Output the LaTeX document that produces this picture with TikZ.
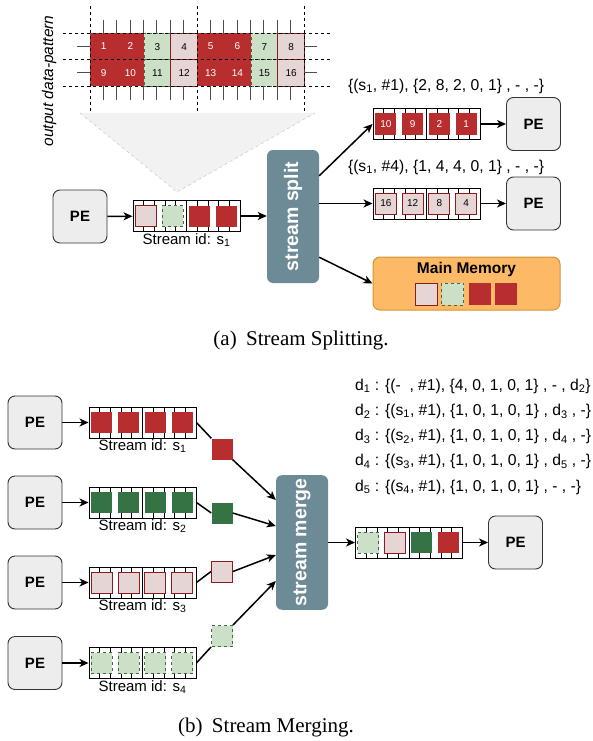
\documentclass[tikz,border=0pt]{standalone}
\usepackage{fontspec}
\setmainfont{Liberation Sans}
\newfontfamily\capfont{Liberation Serif}
\usetikzlibrary{calc}
\usetikzlibrary{arrows.meta}

\definecolor{sqred}{HTML}{B82E2E}
\definecolor{sqpink}{HTML}{E6D5D5}
\definecolor{sqpinkline}{HTML}{8C1C1C}
\definecolor{sqlgreen}{HTML}{CCE0C7}
\definecolor{sqlgreenline}{HTML}{3F6B47}
\definecolor{sqdgreen}{HTML}{367344}
\definecolor{streambox}{HTML}{6D8B97}
\definecolor{memfill}{HTML}{FDBA66}
\definecolor{memline}{HTML}{D39433}

\begin{document}
\begin{tikzpicture}[x=1pt,y=-1pt,
     pe/.style={draw=black!80,fill=black!7,rounded corners=7pt,line width=0.9pt,
       minimum width=54pt,minimum height=53pt,font=\fontsize{15}{15}\selectfont\bfseries},
     buf/.style={draw,line width=0.9pt,minimum width=107pt,minimum height=31pt,inner sep=0pt,
       path picture={
         \foreach \i in {1,...,9}
           \draw[line width=0.8pt]
             ($(path picture bounding box.north west)!\i/10!(path picture bounding box.north east)$) -- ++(0pt,-6pt)
             ($(path picture bounding box.south west)!\i/10!(path picture bounding box.south east)$) -- ++(0pt,6pt);
         \draw[line width=0.8pt] (path picture bounding box.north) -- (path picture bounding box.south);
       }},
     sq/.style={minimum size=21pt,inner sep=0pt,font=\fontsize{10}{10}\selectfont},
     redsq/.style={sq,fill=sqred,text=white},
     pinksq/.style={sq,fill=sqpink,draw=sqpinkline,line width=1pt},
     lgreensq/.style={sq,fill=sqlgreen,draw=sqlgreenline,dashed,line width=1pt},
     dgreensq/.style={sq,fill=sqdgreen},
     sbox/.style={fill=streambox,rounded corners=6pt,minimum width=52pt,text=white,
       font=\fontsize{19.5}{19.5}\selectfont\bfseries},
     lbl/.style={font=\fontsize{15.7}{15.7}\selectfont},
     sid/.style={font=\fontsize{15}{15}\selectfont,anchor=north,inner sep=1pt},
     arr/.style={-{Stealth[length=9pt,width=8pt,inset=2.5pt]},line width=1.5pt},
     ln/.style={line width=1.5pt}
   ]
   \path[use as bounding box] (0,0) rectangle (592,741);
   % Output data-pattern.
   \fill[black!5] (80,113) -- (315,113) -- (177,192) -- cycle;
   \draw[black!25,dashed] (80,113) -- (177,192) -- (315,113);
   \foreach \c [count=\k] in {redsq,redsq,lgreensq,pinksq,redsq,redsq,lgreensq,pinksq} {
     \pgfmathtruncatemacro\na{\k}
     \pgfmathtruncatemacro\nb{\k+8}
     \node[\c,minimum width=26.75pt,minimum height=26.5pt,anchor=north west] (cell\na) at ({90+26.75*(\k-1)},33) {\na};
     \node[\c,minimum width=26.75pt,minimum height=26.5pt,anchor=north west] (cell\nb) at ({90+26.75*(\k-1)},59.5) {\nb};
   }
   \foreach \y in {33,59.5,86} \draw[dashed,line width=0.8pt] (63,\y) -- (332,\y);
   \foreach \x in {90,197,304} \draw[dashed,line width=0.8pt] (\x,6) -- (\x,112);
   \foreach \k in {1,2,3,4,5,6,7,9,10,11,12,13,14,15}
     \draw[black!70,line width=1pt] ({90+13.375*\k},20) -- ++(0,13) ({90+13.375*\k},86) -- ++(0,14);
   \foreach \y in {46.5,73} \draw[black!70,line width=1pt] (77,\y) -- (90,\y) (304,\y) -- (317,\y);
   \node[font=\fontsize{15.5}{15.5}\selectfont\itshape,rotate=90] (pattern) at (49,81) {output data-pattern};

   % Stream splitting.
   \node[pe] (peA) at (80,216.5) {PE};
   \node[buf] (bufA) at (186.5,216) {};
   \foreach \c [count=\k] in {pinksq,lgreensq,redsq,redsq}
     \node[\c] (inA-\k) at ($(bufA.west)+({26.75*\k-13.375},0)$) {};
   \node[sid] (sidA) at (bufA.south) {Stream id: s\textsubscript{1}};
   \node[sbox,minimum height=133pt] (split) at (293,216.5) {\rotatebox{90}{stream split}};
   \node[lbl] (tagB) at (446,86) {\{(s\textsubscript{1}, \#1), \{2, 8, 2, 0, 1\} , - , -\}};
   \node[buf] (bufB) at (426.5,124) {};
   \foreach \c/\t [count=\k] in {redsq/10,redsq/9,redsq/2,redsq/1}
     \node[\c] (inB-\k) at ($(bufB.west)+({26.75*\k-13.375},0)$) {\t};
   \node[pe] (peB) at (533.5,124) {PE};
   \node[lbl] (tagC) at (446,167) {\{(s\textsubscript{1}, \#4), \{1, 4, 4, 0, 1\} , - , -\}};
   \node[buf] (bufC) at (426.5,203.5) {};
   \foreach \c/\t [count=\k] in {pinksq/16,pinksq/12,pinksq/8,pinksq/4}
     \node[\c] (inC-\k) at ($(bufC.west)+({26.75*\k-13.375},0)$) {\t};
   \node[pe] (peC) at (533.5,203.5) {PE};
   \node[draw=memline,fill=memfill,line width=1pt,rounded corners=7pt,minimum width=187pt,minimum height=53pt] (mem) at (466.5,283.5) {};
   \node[font=\fontsize{15.5}{15.5}\selectfont\bfseries] (memtitle) at (466.5,269) {Main Memory};
   \foreach \c/\x [count=\k] in {pinksq/426,lgreensq/452.5,redsq/479.5,redsq/506}
     \node[\c,minimum size=22pt] (inM-\k) at (\x,294) {};
   \draw[arr] (peA) -- (bufA);
   \draw[arr] (bufA) -- (split.west |- bufA);
   \draw[arr] ($(split.north east)+(0,26)$) -- (bufB.west);
   \draw[arr] (split.east |- bufC) -- (bufC);
   \draw[arr] ($(split.south east)+(0,-26)$) -- (mem.west);
   \draw[arr] (bufB) -- (peB);
   \draw[arr] (bufC) -- (peC);
   \node[font=\capfont\fontsize{21}{21}\selectfont] (capA) at (301,340) {(a)\hspace{0.45em}Stream Splitting.};

   % Stream merging.
   \foreach \n/\y/\c in {1/422.5/redsq,2/502.5/dgreensq,3/582.5/pinksq,4/663/lgreensq} {
     \node[pe] (pe\n) at (35,\y) {PE};
     \node[buf] (buf\n) at (142.5,\y) {};
     \foreach \k in {1,2,3,4}
       \node[\c] (in\n-\k) at ($(buf\n.west)+({26.75*\k-13.375},0)$) {};
     \node[sid] (sid\n) at (buf\n.south) {Stream id: s\textsubscript{\n}};
     \draw[arr] (pe\n) -- (buf\n);
   }
   \node[redsq] (mv1) at (222,449) {};
   \node[dgreensq] (mv2) at (222,513) {};
   \node[pinksq] (mv3) at (222,571.5) {};
   \node[lgreensq] (mv4) at (222,636) {};
   \node[sbox,minimum height=131pt] (merge) at (302,542.5) {\rotatebox{90}{stream merge}};
   \draw[ln] (buf1.east) -- (mv1.north west);
   \draw[ln] (buf2.east) -- (mv2.west);
   \draw[ln] (buf3.east) -- (mv3.west);
   \draw[ln] (buf4.east) -- (mv4.south west);
   \draw[arr] (mv1.south east) -- ($(merge.north west)+(0,25)$);
   \draw[arr] (mv2.east) -- ($(merge.north west)+(0,51)$);
   \draw[arr] (mv3.east) -- ($(merge.north west)+(0,80)$);
   \draw[arr] (mv4.north east) -- ($(merge.north west)+(0,106)$);
   \node[buf] (bufO) at (409,542.5) {};
   \foreach \c [count=\k] in {lgreensq,pinksq,dgreensq,redsq}
     \node[\c] (inO-\k) at ($(bufO.west)+({26.75*\k-13.375},0)$) {};
   \node[pe] (peO) at (515.5,542.5) {PE};
   \draw[arr] (merge.east |- bufO) -- (bufO);
   \draw[arr] (bufO) -- (peO);
   \node[lbl,anchor=west,inner sep=0pt] (desc1) at (355,386) {d\textsubscript{1} : \{(-\ \ , \#1), \{4, 0, 1, 0, 1\} , - , d\textsubscript{2}\}};
   \node[lbl,anchor=west,inner sep=0pt] (desc2) at (355,411.25) {d\textsubscript{2} : \{(s\textsubscript{1}, \#1), \{1, 0, 1, 0, 1\} , d\textsubscript{3} , -\}};
   \node[lbl,anchor=west,inner sep=0pt] (desc3) at (355,436.5) {d\textsubscript{3} : \{(s\textsubscript{2}, \#1), \{1, 0, 1, 0, 1\} , d\textsubscript{4} , -\}};
   \node[lbl,anchor=west,inner sep=0pt] (desc4) at (355,461.75) {d\textsubscript{4} : \{(s\textsubscript{3}, \#1), \{1, 0, 1, 0, 1\} , d\textsubscript{5} , -\}};
   \node[lbl,anchor=west,inner sep=0pt] (desc5) at (355,487) {d\textsubscript{5} : \{(s\textsubscript{4}, \#1), \{1, 0, 1, 0, 1\} , - , -\}};
   \node[font=\capfont\fontsize{21}{21}\selectfont] (capB) at (266,727) {(b)\hspace{0.45em}Stream Merging.};
 \end{tikzpicture}
\end{document}
